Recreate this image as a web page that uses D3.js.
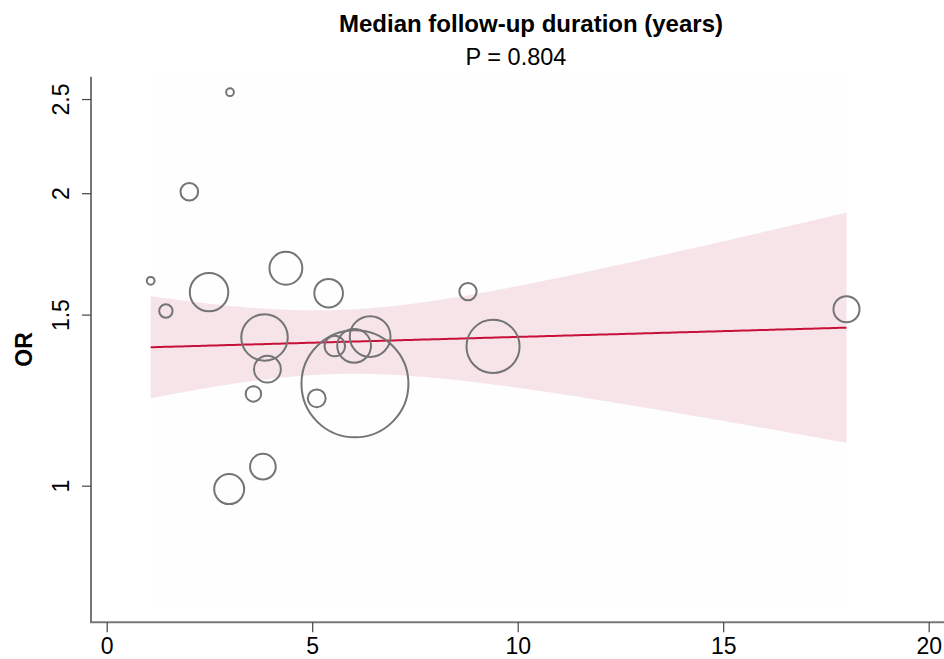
<!DOCTYPE html>
<html>
<head>
<meta charset="utf-8">
<script src="https://cdn.jsdelivr.net/npm/d3@7"></script>
<style>
  html, body { margin: 0; padding: 0; background: #fff; }
  svg { display: block; }
  text { font-family: "Liberation Sans", Arial, Helvetica, sans-serif; fill: #000; }
</style>
</head>
<body>
<svg id="chart" width="944" height="659"></svg>
<script>
// Study-level data: median follow-up (years), odds ratio, relative weight
const followUp = [1.07, 1.44, 2.01, 3.00, 2.49, 2.98, 3.57, 3.80, 3.84, 3.91,
                  4.36, 5.11, 5.40, 5.55, 6.04, 6.02, 6.41, 8.79, 9.40, 18.0];
const oddsRatio = [1.625, 1.513, 2.007, 2.541, 1.582, 0.992, 1.243, 1.046, 1.421, 1.318,
                   1.674, 1.230, 1.578, 1.392, 1.273, 1.393, 1.424, 1.584, 1.391, 1.519];
const weight = [0.15, 0.45, 0.78, 0.15, 3.70, 2.25, 0.60, 1.65, 5.40, 1.80,
                2.70, 0.80, 2.05, 1.05, 28.6, 2.85, 4.15, 0.75, 7.05, 1.70];

// Meta-regression fit on log(OR): intercept, slope and their covariance
const coef = [0.3251, 0.002744];
const vcov = [[0.005051, -0.000640], [-0.000640, 0.0001153]];
const zCrit = 1.96;

const xTicks = [0, 5, 10, 15, 20];
const yTicks = [1, 1.5, 2, 2.5];
const titleText = "Median follow-up duration (years)";
const subtitleText = "P = 0.804";
const yLabel = "OR";

const svg = d3.select("#chart");

const axisLeft = 91, axisBottom = 622.3, axisTop = 76.7, axisRight = 944;

const x = d3.scaleLinear().domain([0, 20]).range([106.7, 928.7]);
const y = d3.scaleLog().domain([0.7234, 2.636]).range([axisBottom, axisTop]);
const r = d3.scaleSqrt().domain([0, 1]).range([0, 10]);

const points = followUp.map((f, i) => ({ x: f, or: oddsRatio[i], w: weight[i] }));
const [xMin, xMax] = d3.extent(followUp);

// Faint backdrop spanning the fitted range
svg.append("rect")
  .attr("x", x(xMin)).attr("y", axisTop)
  .attr("width", x(xMax) - x(xMin)).attr("height", 608 - axisTop)
  .attr("fill", "#fefefe");

// Fitted line and confidence band
const grid = d3.range(0, 201).map(i => xMin + (xMax - xMin) * i / 200);
const fit = grid.map(t => {
  const m = coef[0] + coef[1] * t;
  const se = Math.sqrt(vcov[0][0] + 2 * t * vcov[0][1] + t * t * vcov[1][1]);
  return { t, m, lo: m - zCrit * se, hi: m + zCrit * se };
});

svg.append("path")
  .datum(fit)
  .attr("fill", "#f7e4e9")
  .attr("d", d3.area()
    .x(d => x(d.t))
    .y0(d => y(Math.exp(d.lo)))
    .y1(d => y(Math.exp(d.hi))));

svg.append("path")
  .datum(fit)
  .attr("fill", "none")
  .attr("stroke", "#c8103a")
  .attr("stroke-width", 2)
  .attr("d", d3.line().x(d => x(d.t)).y(d => y(Math.exp(d.m))));

// Study bubbles, area proportional to weight
svg.append("g")
  .selectAll("circle")
  .data(points)
  .join("circle")
  .attr("cx", d => x(d.x))
  .attr("cy", d => y(d.or))
  .attr("r", d => r(d.w))
  .attr("fill", "none")
  .attr("stroke", "#747474")
  .attr("stroke-width", 2);

// Axes
const axisColor = "#777";
svg.append("line")
  .attr("x1", axisLeft).attr("x2", axisLeft)
  .attr("y1", axisTop).attr("y2", axisBottom)
  .attr("stroke", axisColor).attr("stroke-width", 2);
svg.append("line")
  .attr("x1", axisLeft - 1).attr("x2", axisRight)
  .attr("y1", axisBottom).attr("y2", axisBottom)
  .attr("stroke", axisColor).attr("stroke-width", 2);

const fontStack = "'Liberation Sans', Arial, sans-serif";

const xAxis = svg.append("g")
  .attr("transform", `translate(0,${axisBottom})`)
  .call(d3.axisBottom(x).tickValues(xTicks).tickFormat(d3.format("d")).tickSize(10).tickPadding(5));
xAxis.select(".domain").remove();
xAxis.selectAll(".tick line").attr("stroke", "#444").attr("stroke-width", 1.2);
xAxis.selectAll(".tick text")
  .attr("font-size", 23).attr("fill", "#000")
  .style("font-family", fontStack);

const yAxis = svg.append("g")
  .attr("transform", `translate(${axisLeft},0)`)
  .call(d3.axisLeft(y).tickValues(yTicks).tickFormat(d => String(d)).tickSize(9).tickPadding(0));
yAxis.select(".domain").remove();
yAxis.selectAll(".tick line").attr("stroke", "#444").attr("stroke-width", 1.2);
yAxis.selectAll(".tick text")
  .attr("font-size", 23).attr("fill", "#000")
  .attr("x", null).attr("dy", null)
  .attr("text-anchor", "middle")
  .attr("transform", "translate(-22,0) rotate(-90)")
  .style("font-family", fontStack);

// Titles
svg.append("text")
  .attr("x", 531).attr("y", 32)
  .attr("text-anchor", "middle")
  .attr("font-size", 24).attr("font-weight", "bold")
  .text(titleText);
svg.append("text")
  .attr("x", 516).attr("y", 65)
  .attr("text-anchor", "middle")
  .attr("font-size", 23.5)
  .text(subtitleText);
svg.append("text")
  .attr("transform", `translate(32,${(axisTop + axisBottom) / 2}) rotate(-90)`)
  .attr("text-anchor", "middle")
  .attr("font-size", 23).attr("font-weight", "bold")
  .text(yLabel);
</script>
</body>
</html>
